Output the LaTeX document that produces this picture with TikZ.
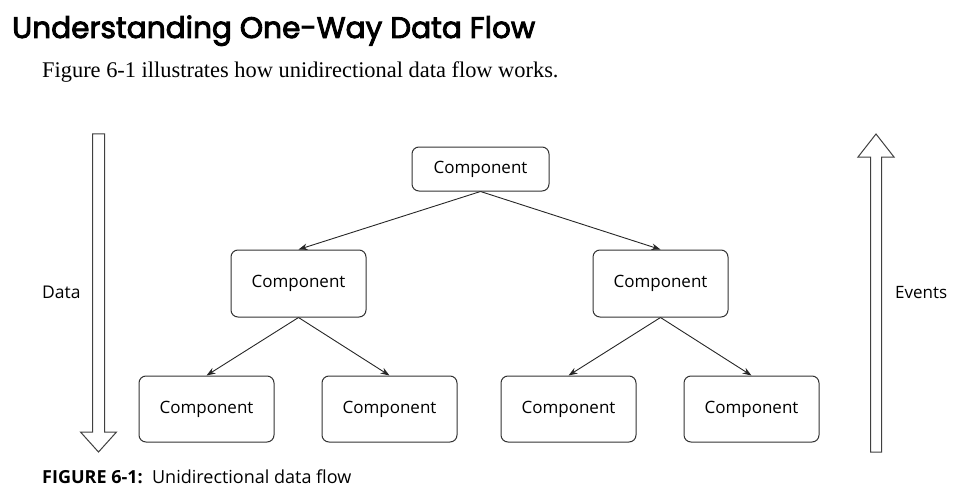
\documentclass[tikz,border=0pt]{standalone}
\usepackage{fontspec}
\setmainfont{Liberation Serif}
\newfontfamily\headfont[FakeBold=3]{Poppins}
\newfontfamily\boxfont{Open Sans}
\usetikzlibrary{positioning,arrows.meta}

\begin{document}
\begin{tikzpicture}[x=1pt,y=-1pt,>={Stealth[length=9pt,width=6.5pt]},
  comp/.style={draw=black!80,rounded corners=7pt,line width=1pt,minimum width=135pt,
    minimum height=66pt,inner sep=0pt,font=\boxfont\fontsize{17}{20}\selectfont},
  link/.style={->,draw=black!85,line width=0.9pt},
  bigarrow/.style={draw=black!75,line width=1pt,fill=white},
  sidelabel/.style={anchor=base west,inner sep=0pt,font=\boxfont\fontsize{17.5}{20}\selectfont}]
  \useasboundingbox (0,0) rectangle (966,492);
  \node[anchor=base west,inner sep=0pt,font=\headfont\fontsize{29.6}{34}\selectfont] (title)
    at (12,38) {Understanding One-Way Data Flow};
  \node[anchor=base west,inner sep=0pt,font=\fontsize{22.4}{26}\selectfont] (intro)
    at (42,78) {Figure 6-1 illustrates how unidirectional data flow works.};

  \node[comp,minimum width=137pt,minimum height=44pt] (root) at (480.5,169) {Component};
  \node[comp,minimum height=67pt,below left=58pt and 45pt of root] (left) {Component};
  \node[comp,minimum height=67pt,below right=58pt and 43pt of root] (right) {Component};
  \node[comp,below=58pt of left,xshift=-92pt] (leftA) {Component};
  \node[comp,below=58pt of left,xshift=91pt] (leftB) {Component};
  \node[comp,below=58pt of right,xshift=-92pt] (rightA) {Component};
  \node[comp,below=58pt of right,xshift=91pt] (rightB) {Component};

  \draw[link] (root.south) -- (left.north);
  \draw[link] (root.south) -- (right.north);
  \draw[link] (left.south) -- (leftA.north);
  \draw[link] (left.south) -- (leftB.north);
  \draw[link] (right.south) -- (rightA.north);
  \draw[link] (right.south) -- (rightB.north);

  \draw[bigarrow] (92.5,134) -- (104.5,134) -- (104.5,432) -- (116.5,432) -- (98.5,452)
    -- (80.5,432) -- (92.5,432) -- cycle;
  \draw[bigarrow] (870.5,452) -- (881.5,452) -- (881.5,157) -- (894,157) -- (876,134)
    -- (858,157) -- (870.5,157) -- cycle;
  \node[sidelabel] (data) at (42,298) {Data};
  \node[sidelabel,font=\boxfont\fontsize{17}{20}\selectfont] (events) at (895,298) {Events};

  \node[anchor=base west,inner sep=0pt,font=\boxfont\fontsize{18}{20}\selectfont] (caption)
    at (42,483) {\bfseries FIGURE 6-1:\ \ \mdseries Unidirectional data flow};
\end{tikzpicture}
\end{document}
